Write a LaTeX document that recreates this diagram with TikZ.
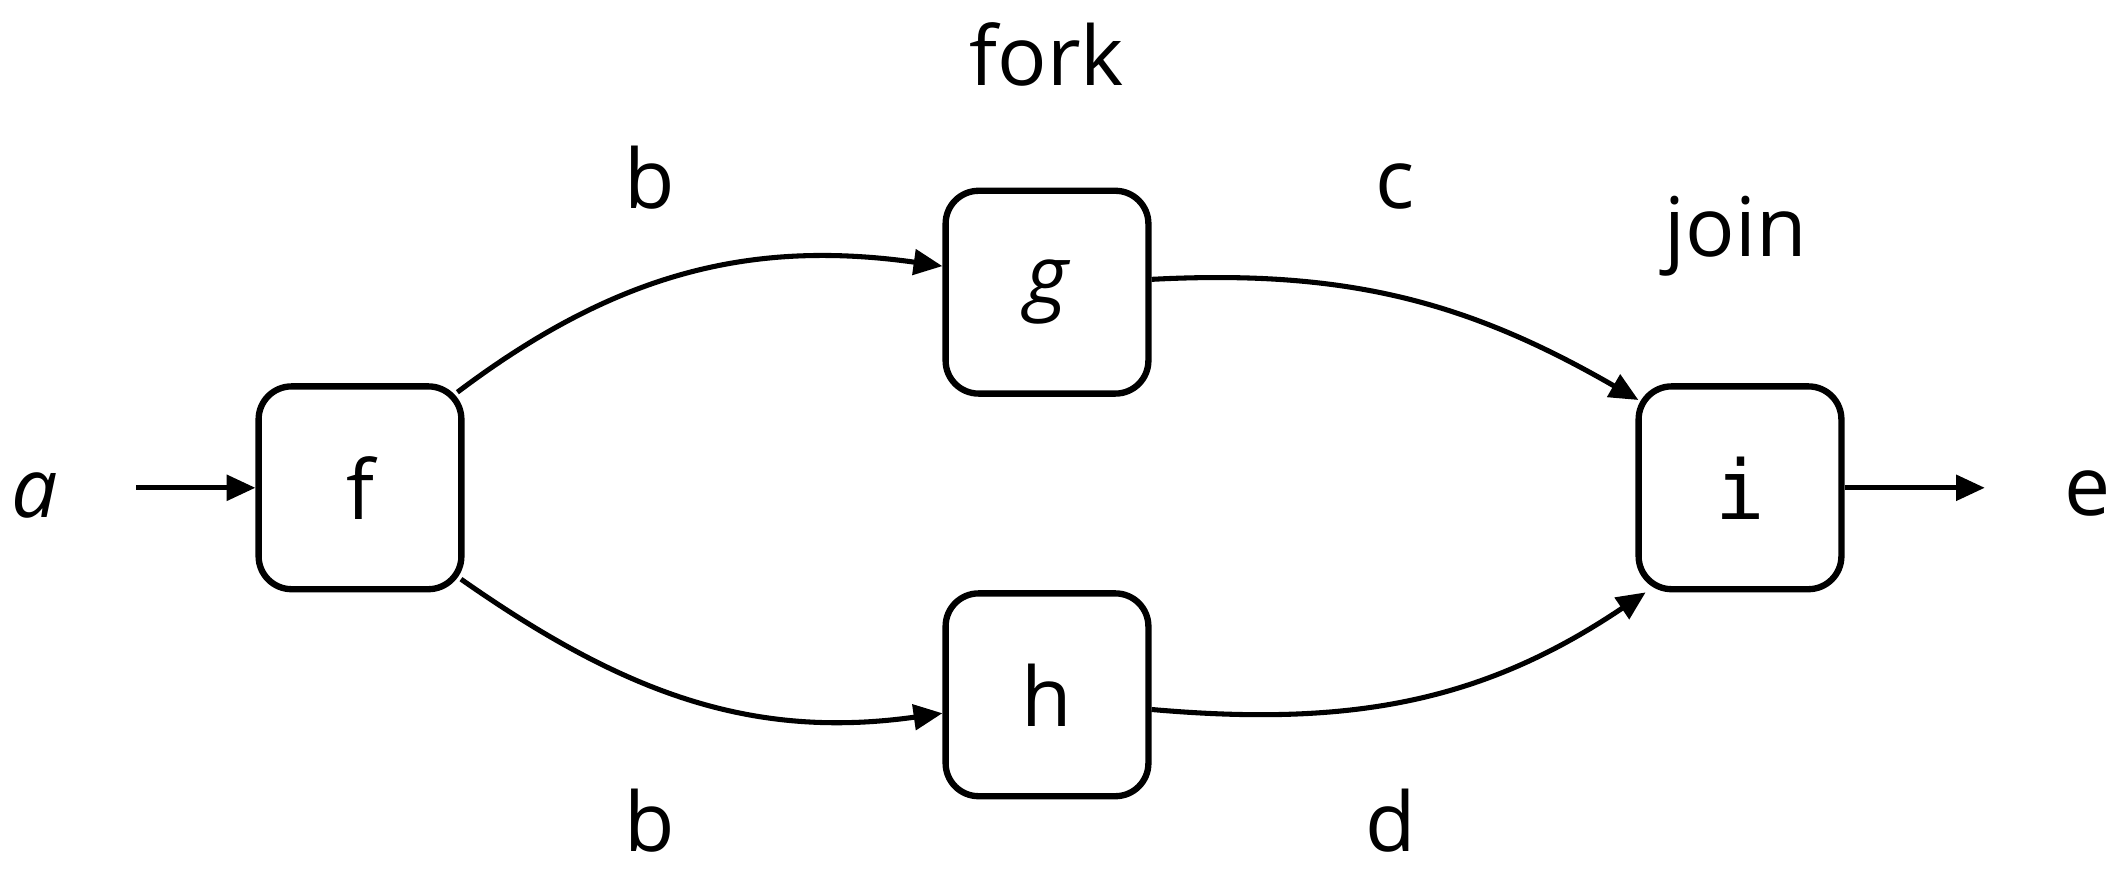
\documentclass[tikz,border=0pt]{standalone}
\usepackage{fontspec}
\setmainfont{Open Sans}
\newfontfamily\monofont{DejaVu Sans Mono}
\usetikzlibrary{arrows.meta}

\begin{document}
\begin{tikzpicture}[
        font=\fontsize{39}{47}\selectfont,
        task/.style={draw, line width=3pt, rounded corners=0.55cm,
            minimum width=3.38cm, minimum height=3.38cm},
        flow/.style={line width=2.4pt, -{Triangle[length=0.48cm,width=0.42cm]}},
        lbl/.style={anchor=base, inner sep=0pt}
    ]
    \useasboundingbox (0,0) rectangle (35.2,14.55);

    % the four steps
    \node[task] (f) at (6.0,6.42) {f};
    \node[task] (g) at (17.45,9.68) {\itshape g};
    \node[task] (h) at (17.45,2.97) {h};
    \node[task] (i) at (29.0,6.42) {\monofont i};

    % input and output
    \node[lbl] (a) at (0.58,5.92) {\itshape a};
    \node[lbl] (e) at (34.8,5.95) {e};
    \coordinate (in) at (2.27,6.42);
    \coordinate (out) at (33.08,6.42);

    % labels
    \node[lbl] (fork) at (17.45,13.13) {fork};
    \node[lbl] (join) at (28.93,10.27) {join};
    \node[lbl] (b1) at (10.82,11.07) {b};
    \node[lbl] (c) at (23.25,11.07) {c};
    \node[lbl] (b2) at (10.82,0.36) {b};
    \node[lbl] (d) at (23.18,0.36) {d};

    \draw[flow] (in) -- (f.west);
    \draw[flow] (i.east) -- (out);
    \draw[flow] ([xshift=-0.12cm,yshift=-0.15cm]f.north east) to[out=37, in=172] (g.166);
    \draw[flow] ([xshift=-0.06cm,yshift=0.22cm]f.south east) to[out=-35, in=188] (h.190);
    \draw[flow] (g.7) to[out=3, in=150] ([xshift=0.05cm,yshift=-0.28cm]i.north west);
    \draw[flow] (h.352) to[out=-5, in=214] ([xshift=0.17cm]i.south west);
\end{tikzpicture}
\end{document}
